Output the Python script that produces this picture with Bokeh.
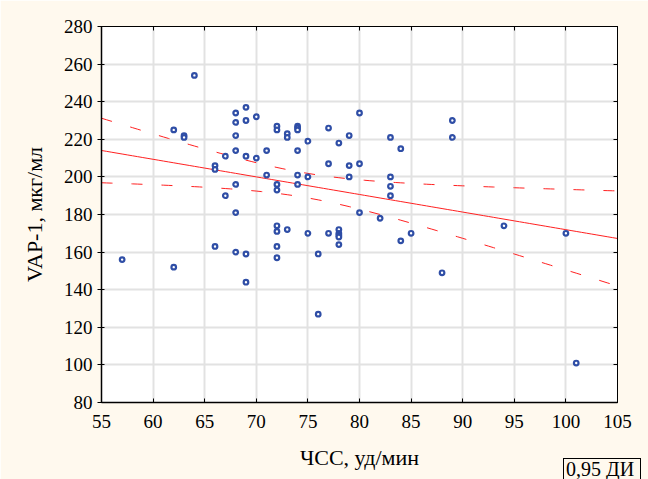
import numpy as np
from bokeh.plotting import figure
from bokeh.models import Range1d, LinearAxis, FixedTicker, ColumnDataSource, Div
from bokeh.layouts import column
from bokeh.embed import file_html
from bokeh.resources import INLINE

# ---- data ----
hr = [57,
      62, 62,
      63, 63,
      64,
      66, 66, 66,
      67, 67,
      68, 68, 68, 68, 68, 68, 68,
      69, 69, 69, 69, 69,
      70, 70,
      71, 71,
      72, 72, 72, 72, 72, 72, 72, 72,
      73, 73, 73,
      74, 74, 74, 74, 74, 74,
      75, 75, 75,
      76, 76,
      77, 77, 77,
      78, 78, 78, 78, 78, 78,
      79, 79, 79,
      80, 80, 80,
      82,
      83, 83, 83, 83,
      84, 84,
      85,
      88,
      89, 89,
      94,
      100,
      101]
vap = [156,
       225, 152,
       222, 221,
       254,
       206, 204, 163,
       211, 190,
       234, 229, 222, 214, 196, 181, 160,
       237, 230, 211, 159, 144,
       232, 210,
       214, 201,
       227, 225, 196, 193, 174, 171, 163, 157,
       223, 221, 172,
       227, 226, 225, 214, 201, 196,
       219, 200, 170,
       159, 127,
       226, 207, 170,
       218, 172, 170, 169, 168, 164,
       222, 206, 200,
       234, 207, 181,
       178,
       221, 200, 195, 190,
       215, 166,
       170,
       149,
       230, 221,
       174,
       170,
       101]

x_ticks = [55, 60, 65, 70, 75, 80, 85, 90, 95, 100, 105]
y_ticks = [80, 100, 120, 140, 160, 180, 200, 220, 240, 260, 280]
x_title = "ЧСС, уд/мин"
y_title = "VAP-1, мкг/мл"
ci_text = "0,95 ДИ"

# ---- regression with 95% confidence band ----
xa = np.array(hr, dtype=float)
ya = np.array(vap, dtype=float)
n = len(xa)
b1, b0 = np.polyfit(xa, ya, 1)
xm = xa.mean()
sxx = ((xa - xm) ** 2).sum()
s = np.sqrt(((ya - (b0 + b1 * xa)) ** 2).sum() / (n - 2))
t = 1.992
xf = np.linspace(x_ticks[0], x_ticks[-1], 101)
yf = b0 + b1 * xf
half = t * s * np.sqrt(1.0 / n + (xf - xm) ** 2 / sxx)
fit_src = ColumnDataSource(dict(x=xf, y=yf, lo=yf - half, hi=yf + half))

CREAM = "#FFF9EE"
FONT = "Liberation Serif"

p = figure(width=648, height=479, output_backend="svg", toolbar_location=None,
           x_range=Range1d(55, 105), y_range=Range1d(80, 280),
           min_border_left=101, min_border_right=31, min_border_top=26, min_border_bottom=77,
           background_fill_color="white", border_fill_color=CREAM,
           outline_line_color="black", outline_line_width=1)

p.xgrid.ticker = FixedTicker(ticks=x_ticks)
p.ygrid.ticker = FixedTicker(ticks=y_ticks)
p.grid.grid_line_color = "#E2E2E2"
p.grid.grid_line_width = 2

p.line("x", "y", source=fit_src, line_color="#FF2020", line_width=1)
p.line("x", "lo", source=fit_src, line_color="#FF2020", line_width=1, line_dash="11 19")
p.line("x", "hi", source=fit_src, line_color="#FF2020", line_width=1, line_dash="11 19")

p.scatter(hr, vap, marker="circle", size=4.6, fill_color="white",
          line_color="#2F4EA6", line_width=2.2)

xa_ = p.xaxis[0]
xa_.ticker = FixedTicker(ticks=x_ticks)
xa_.axis_label = x_title
ya_ = p.yaxis[0]
ya_.ticker = FixedTicker(ticks=y_ticks)
ya_.axis_label = y_title

for ax in (xa_, ya_):
    ax.major_label_text_font = FONT
    ax.major_label_text_font_size = "19px"
    ax.major_label_text_color = "black"
    ax.axis_label_text_font = FONT
    ax.axis_label_text_font_size = "22px"
    ax.axis_label_text_font_style = "normal"
    ax.axis_label_text_color = "black"
    ax.axis_line_color = "black"
    ax.axis_line_width = 1.5
    ax.major_tick_line_color = "black"
    ax.minor_tick_line_color = None

xa_.major_tick_in = 4
xa_.major_tick_out = 0
xa_.major_label_standoff = 12
xa_.axis_label_standoff = 14

ya_.major_tick_in = 3
ya_.major_tick_out = 4
ya_.major_label_standoff = 5
ya_.axis_label_standoff = 14

top = LinearAxis(ticker=FixedTicker(ticks=x_ticks), major_tick_in=4, major_tick_out=0,
                 major_label_overrides={v: "" for v in x_ticks}, major_label_standoff=0,
                 minor_tick_line_color=None, axis_line_color="black",
                 major_tick_line_color="black")
right = LinearAxis(ticker=FixedTicker(ticks=y_ticks), major_tick_in=4, major_tick_out=0,
                   major_label_overrides={v: "" for v in y_ticks}, major_label_standoff=0,
                   minor_tick_line_color=None, axis_line_color="black",
                   major_tick_line_color="black")
p.add_layout(top, "above")
p.add_layout(right, "right")

ci_box = Div(text=ci_text, width=78, height=21, margin=(-21, 0, 0, 563),
             styles={"box-sizing": "border-box", "border": "1px solid black",
                     "border-bottom": "none", "padding": "0px 0px 0px 2px",
                     "font-family": FONT, "font-size": "20px", "line-height": "20px",
                     "color": "black", "white-space": "nowrap", "overflow": "hidden"})

layout = column(p, ci_box, spacing=0)

open("out.html", "w").write(file_html(layout, INLINE))
